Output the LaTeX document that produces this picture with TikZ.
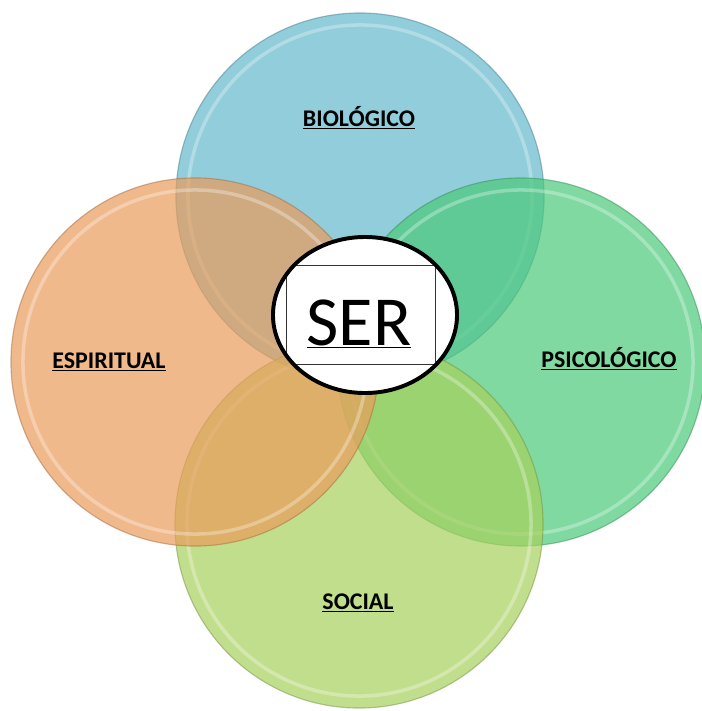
\documentclass[tikz,border=0pt]{standalone}
\usepackage{fontspec}
\setmainfont{Carlito}
\usetikzlibrary{shapes.geometric}
\definecolor{bioblue}{RGB}{99,184,205}
\definecolor{espirorange}{RGB}{234,156,91}
\definecolor{psicogreen}{RGB}{74,201,122}
\definecolor{socialgreen}{RGB}{168,209,94}
\tikzset{
  petal/.style={fill=#1, fill opacity=0.7, draw=#1!70!black, draw opacity=0.5, line width=0.8pt},
  shine/.style={draw=white, draw opacity=0.3, line width=2.5pt},
  tag/.style={font=\bfseries\fontsize{17}{20}\selectfont, anchor=base, inner sep=0pt},
  serbox/.style={rectangle, draw=black!80, fill=none, line width=0.7pt, minimum width=3.725cm, minimum height=2.45cm, inner sep=0pt},
}
\begin{document}
\begin{tikzpicture}
[x=0.025cm, y=-0.025cm]
\useasboundingbox (0,0) rectangle (702,711);
\fill[white] (0,0) rectangle (702,711);
\draw[petal=bioblue] (360,197) circle [radius=4.6cm];
\draw[shine] (360,197) circle [radius=4.3cm];
\draw[petal=psicogreen] (521,362) circle [radius=4.6cm];
\draw[shine] (521,362) circle [radius=4.3cm];
\draw[petal=socialgreen] (359,524) circle [radius=4.6cm];
\draw[shine] (359,524) circle [radius=4.3cm];
\draw[petal=espirorange] (195,362) circle [radius=4.6cm];
\draw[shine] (195,362) circle [radius=4.3cm];
\node[tag] (bio) at (359,126) {\underline{BIOLÓGICO}};
\node[tag] (espi) at (109,368) {\underline{ESPIRITUAL}};
\node[tag] (psico) at (609,367) {\underline{PSICOLÓGICO}};
\node[tag] (social) at (358,609) {\underline{SOCIAL}};
\node[draw, ellipse, fill=white, line width=2.8pt, minimum width=4.6cm, minimum height=3.9cm,
  path picture={\node[serbox] (box) at ([xshift=-0.11cm]path picture bounding box.center) {};}] (core) at (365,315) {};
\node[anchor=base, font=\fontsize{50}{54}\selectfont, inner sep=0pt] (ser) at (359,345) {\underline{SER}};
\end{tikzpicture}
\end{document}
